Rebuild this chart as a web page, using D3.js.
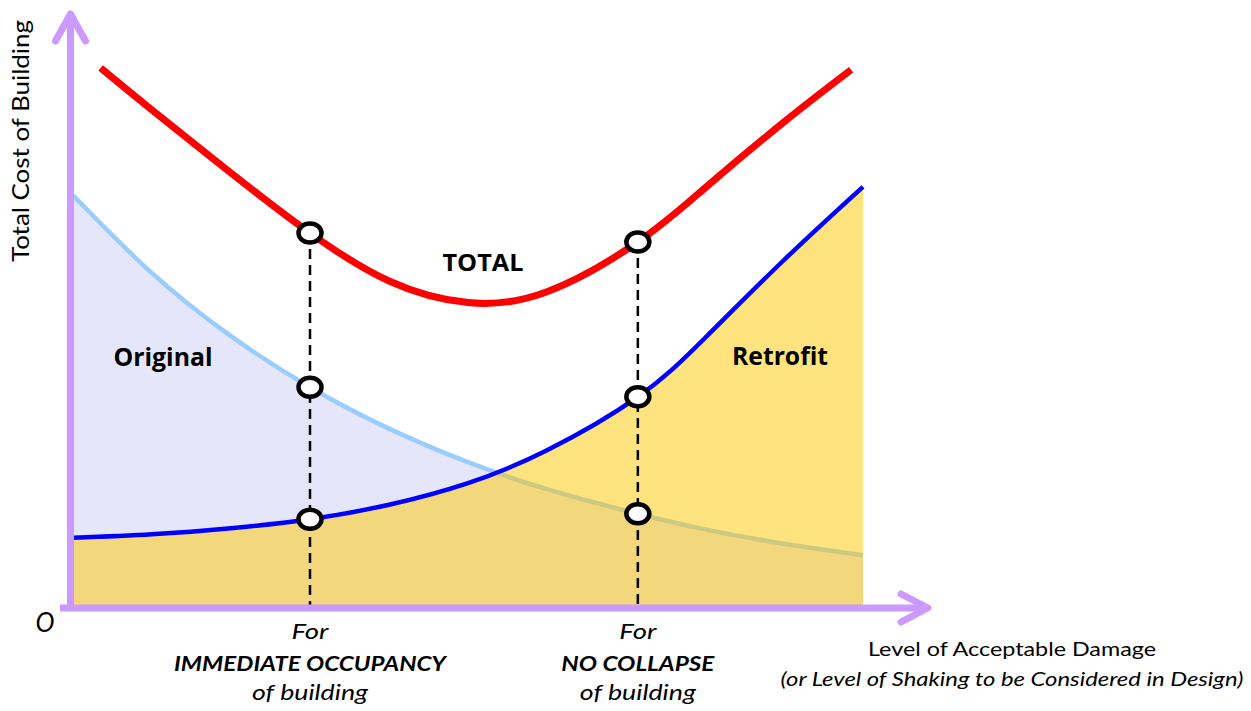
<!DOCTYPE html>
<html>
<head>
<meta charset="utf-8">
<script src="https://cdn.jsdelivr.net/npm/d3@7"></script>
<style>
  html, body { margin: 0; padding: 0; background: #ffffff; }
  svg { display: block; }
</style>
</head>
<body>
<div id="chart"></div>
<script>
// Level of acceptable damage (0 = none, 100 = maximum considered)
const damageLevels = [0, 10, 20, 30, 40, 50, 60, 71.5, 80, 90, 100];
const totalLevels  = [3.5, 10, 20, 30, 40, 50, 60, 71.5, 80, 90, 98.5];

// Relative cost values (0 = no cost)
const originalCost = [68.3, 55.3, 44.8, 36.3, 29.4, 23.8, 19.3, 15.2, 12.6, 10.2, 8.3];
const retrofitCost = [11.2, 11.8, 12.8, 14.3, 16.7, 20.3, 25.8, 34.7, 44.5, 57.5, 69.7];
const totalCost    = [89.5, 82.5, 72, 62, 54, 50.4, 52.2, 60.5, 69.5, 80.5, 89.2];

// Design targets marked on the curves
const targetLevels = [30, 71.5];
const targetTitles = ["IMMEDIATE OCCUPANCY", "NO COLLAPSE"];

const W = 1251, H = 711;
const svg = d3.select("#chart").append("svg")
  .attr("width", W).attr("height", H)
  .attr("viewBox", `0 0 ${W} ${H}`);

const x = d3.scaleLinear().domain([0, 100]).range([73, 863]);
const y = d3.scaleLinear().domain([0, 100]).range([605, 5]);

const original = damageLevels.map((d, i) => ({ x: d, y: originalCost[i] }));
const retrofit = damageLevels.map((d, i) => ({ x: d, y: retrofitCost[i] }));
const total    = totalLevels.map((d, i) => ({ x: d, y: totalCost[i] }));

const curve = d3.curveNatural;
const line = d3.line().x(d => x(d.x)).y(d => y(d.y)).curve(curve);
const area = d3.area().x(d => x(d.x)).y0(y(0)).y1(d => y(d.y)).curve(curve);

// Original construction cost: lavender area + light blue curve
svg.append("path").attr("d", area(original)).attr("fill", "#e6e6fa");
svg.append("path").attr("d", line(original))
  .attr("fill", "none").attr("stroke", "#99ccff").attr("stroke-width", 4.5);

// Retrofit cost: translucent yellow area laid over the original one
svg.append("path").attr("d", area(retrofit))
  .attr("fill", "#ffc700").attr("fill-opacity", 0.5);
svg.append("path").attr("d", line(retrofit))
  .attr("fill", "none").attr("stroke", "#0000ff").attr("stroke-width", 4.5);

// Total cost curve
svg.append("path").attr("d", line(total))
  .attr("fill", "none").attr("stroke", "#ff0000").attr("stroke-width", 7);

// Vertical dashed guides for each design target
const idxOf = lv => damageLevels.indexOf(lv);
const tIdxOf = lv => totalLevels.indexOf(lv);
svg.append("g").selectAll("line").data(targetLevels).join("line")
  .attr("x1", d => x(d)).attr("x2", d => x(d))
  .attr("y1", d => y(totalCost[tIdxOf(d)]))
  .attr("y2", y(0))
  .attr("stroke", "#000").attr("stroke-width", 2.5)
  .attr("stroke-dasharray", "10,6");

// Axes with open arrow heads
const axisColor = "#cc99ff";
const ax = svg.append("g").attr("fill", "none").attr("stroke", axisColor)
  .attr("stroke-width", 7).attr("stroke-linecap", "round").attr("stroke-linejoin", "round");
const x0 = x(0) - 2.5, yBase = y(0) + 3;
ax.append("line").attr("x1", x0).attr("y1", yBase + 3).attr("x2", x0).attr("y2", 16)
  .attr("stroke-linecap", "butt");
ax.append("path").attr("d", `M${x0 - 15},${41} L${x0},${14} L${x0 + 15},${41}`);
ax.append("line").attr("x1", 60).attr("y1", yBase).attr("x2", 926).attr("y2", yBase)
  .attr("stroke-linecap", "butt");
ax.append("path").attr("d", `M${901},${yBase - 14} L${928},${yBase} L${901},${yBase + 14}`);

// Markers where each target meets the three curves
const markers = [];
targetLevels.forEach(lv => {
  markers.push({ x: lv, y: totalCost[tIdxOf(lv)] });
  markers.push({ x: lv, y: originalCost[idxOf(lv)] });
  markers.push({ x: lv, y: retrofitCost[idxOf(lv)] });
});
svg.append("g").selectAll("ellipse").data(markers).join("ellipse")
  .attr("cx", d => x(d.x)).attr("cy", d => y(d.y))
  .attr("rx", 11.5).attr("ry", 9.5)
  .attr("fill", "#fff").attr("stroke", "#000").attr("stroke-width", 4.5);

// Text
function label(opts) {
  const t = svg.append("text")
    .attr("x", opts.x).attr("y", opts.y)
    .attr("text-anchor", opts.anchor || "middle")
    .attr("font-family", opts.family || "Lato, 'Open Sans', sans-serif")
    .attr("font-size", opts.size)
    .attr("font-weight", opts.weight || "normal")
    .attr("font-style", opts.style || "normal")
    .attr("fill", "#000")
    .text(opts.text);
  if (opts.len) t.attr("textLength", opts.len).attr("lengthAdjust", "spacingAndGlyphs");
  if (opts.transform) t.attr("transform", opts.transform);
  return t;
}

label({ text: "Total Cost of Building", x: 0, y: 0, size: 23, len: 242,
        transform: "translate(29,141) rotate(-90)" });
label({ text: "O", x: 45, y: 632, size: 27, style: "italic", len: 19 });

const bold = "'Open Sans', sans-serif";
label({ text: "TOTAL", x: 483, y: 271, size: 24, weight: "bold", family: bold, len: 81 });
label({ text: "Original", x: 163, y: 366, size: 25, weight: "bold", family: bold, len: 99 });
label({ text: "Retrofit", x: 780, y: 365, size: 25, weight: "bold", family: bold, len: 96 });

const titleLens = [272, 153];
targetLevels.forEach((lv, i) => {
  const cx = x(lv);
  label({ text: "For", x: cx, y: 639, size: 21, style: "italic", len: 37 });
  label({ text: targetTitles[i], x: cx, y: 671, size: 21, style: "italic", weight: "bold", len: titleLens[i] });
  label({ text: "of building", x: cx, y: 700, size: 21, style: "italic", len: 116 });
});

label({ text: "Level of Acceptable Damage", x: 1012, y: 656, size: 20, len: 288 });
label({ text: "(or Level of Shaking to be Considered in Design)", x: 1012, y: 686,
        size: 20, style: "italic", len: 463 });
</script>
</body>
</html>
